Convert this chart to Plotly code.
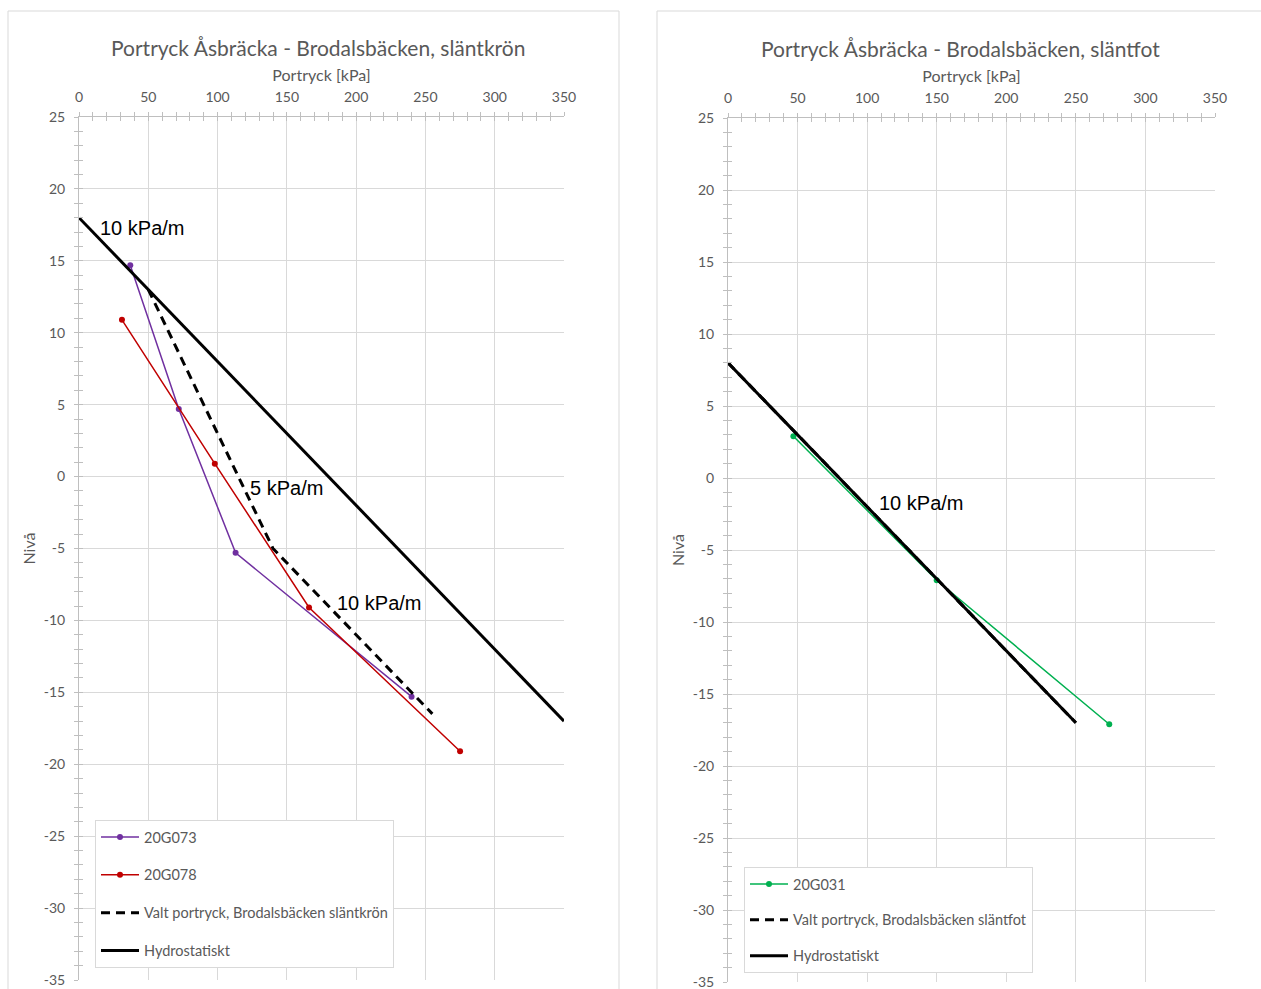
import plotly.graph_objects as go

# --- Släntkrön (left chart) ---
g073_kpa = [37, 72, 113, 240]
g073_niva = [14.7, 4.7, -5.3, -15.3]

g078_kpa = [31, 98, 166, 275]
g078_niva = [10.9, 0.9, -9.1, -19.1]

valt_kron_kpa = [50, 140, 255]
valt_kron_niva = [13, -5, -16.5]

hydro_kron_kpa = [0, 350]
hydro_kron_niva = [18, -17]

# --- Släntfot (right chart) ---
g031_kpa = [47, 150, 274]
g031_niva = [2.9, -7.1, -17.1]

valt_fot_kpa = [0, 250]
valt_fot_niva = [8, -17]

hydro_fot_kpa = [0, 250]
hydro_fot_niva = [8, -17]

# --- Axis settings ---
x_range = [0, 350]
y_range = [-35, 25]
x_tickvals = [0, 50, 100, 150, 200, 250, 300, 350]
y_tickvals = [25, 20, 15, 10, 5, 0, -5, -10, -15, -20, -25, -30, -35]
y_ticktext = [str(v) for v in y_tickvals]  # plain hyphen minus

W, H = 1261, 989
TXT = "#595959"
GRID = "#d9d9d9"
AXL = "#bfbfbf"
FONT = "Lato"

PURPLE = "#7030a0"
RED = "#c00000"
GREEN = "#00b050"

fig = go.Figure()

# left chart traces
fig.add_trace(go.Scatter(x=g073_kpa, y=g073_niva, name="20G073", mode="lines+markers",
                         line=dict(color=PURPLE, width=1.5), marker=dict(size=6, color=PURPLE),
                         xaxis="x", yaxis="y", legend="legend", legendgroup="a"))
fig.add_trace(go.Scatter(x=g078_kpa, y=g078_niva, name="20G078", mode="lines+markers",
                         line=dict(color=RED, width=1.5), marker=dict(size=6, color=RED),
                         xaxis="x", yaxis="y", legend="legend", legendgroup="b"))
fig.add_trace(go.Scatter(x=valt_kron_kpa, y=valt_kron_niva,
                         name="Valt portryck, Brodalsbäcken släntkrön", mode="lines",
                         line=dict(color="black", width=3, dash="9px,6px"),
                         xaxis="x", yaxis="y", legend="legend", legendgroup="c"))
fig.add_trace(go.Scatter(x=hydro_kron_kpa, y=hydro_kron_niva, name="Hydrostatiskt", mode="lines",
                         line=dict(color="black", width=3),
                         xaxis="x", yaxis="y", legend="legend", legendgroup="d"))

# right chart traces
fig.add_trace(go.Scatter(x=g031_kpa, y=g031_niva, name="20G031", mode="lines+markers",
                         line=dict(color=GREEN, width=1.5), marker=dict(size=6, color=GREEN),
                         xaxis="x2", yaxis="y2", legend="legend2", legendgroup="e"))
fig.add_trace(go.Scatter(x=valt_fot_kpa, y=valt_fot_niva,
                         name="Valt portryck, Brodalsbäcken släntfot", mode="lines",
                         line=dict(color="black", width=3, dash="9px,6px"),
                         xaxis="x2", yaxis="y2", legend="legend2", legendgroup="f"))
fig.add_trace(go.Scatter(x=hydro_fot_kpa, y=hydro_fot_niva, name="Hydrostatiskt", mode="lines",
                         line=dict(color="black", width=3),
                         xaxis="x2", yaxis="y2", legend="legend2", legendgroup="g"))

# empty traces carrying the inward half of the crossing tick marks
for xa, ya in (("x3", "y3"), ("x4", "y4")):
    fig.add_trace(go.Scatter(x=[None], y=[None], mode="lines", showlegend=False,
                             hoverinfo="skip", xaxis=xa, yaxis=ya))

left_dom = [79 / W, 564 / W]
right_dom = [728 / W, 1215 / W]
left_ydom = [1 - 980 / H, 1 - 117 / H]
right_ydom = [1 - 982 / H, 1 - 118 / H]


def xax(domain, anchor, **kw):
    d = dict(domain=domain, anchor=anchor, range=x_range, side="top", automargin=False,
             tickvals=x_tickvals, showgrid=True, gridcolor=GRID, gridwidth=1,
             showline=True, linecolor=AXL, linewidth=1, zeroline=False,
             ticks="outside", ticklen=4, tickcolor=AXL, ticklabelstandoff=4,
             ticklabeloverflow="allow",
             minor=dict(dtick=10, ticks="outside", ticklen=4, tickcolor=AXL, showgrid=False),
             tickfont=dict(family=FONT, size=14, color=TXT),
             title=dict(text="Portryck [kPa]", font=dict(family=FONT, size=16, color=TXT), standoff=2))
    d.update(kw)
    return d


def yax(domain, anchor, **kw):
    d = dict(domain=domain, anchor=anchor, range=y_range, automargin=False,
             tickvals=y_tickvals, ticktext=y_ticktext, showgrid=True, gridcolor=GRID, gridwidth=1,
             showline=True, linecolor=AXL, linewidth=1, zeroline=False,
             ticks="outside", ticklen=4, tickcolor=AXL, ticklabeloverflow="allow",
             minor=dict(dtick=1, ticks="outside", ticklen=4, tickcolor=AXL, showgrid=False),
             tickfont=dict(family=FONT, size=14, color=TXT), ticklabelstandoff=6,
             title=dict(text="Nivå", font=dict(family=FONT, size=16, color=TXT), standoff=4))
    d.update(kw)
    return d


def overlay_x(domain, anchor, over):
    return dict(domain=domain, anchor=anchor, overlaying=over, matches=over, range=x_range,
                side="top", tickvals=x_tickvals, showgrid=False, showline=False, zeroline=False,
                ticks="inside", ticklen=4, tickcolor=AXL, showticklabels=False, automargin=False,
                minor=dict(dtick=10, ticks="inside", ticklen=4, tickcolor=AXL, showgrid=False))


def overlay_y(domain, anchor, over):
    return dict(domain=domain, anchor=anchor, overlaying=over, matches=over, range=y_range,
                tickvals=y_tickvals, showgrid=False, showline=False, zeroline=False,
                ticks="inside", ticklen=4, tickcolor=AXL, showticklabels=False, automargin=False,
                minor=dict(dtick=1, ticks="inside", ticklen=4, tickcolor=AXL, showgrid=False))


legend_common = dict(
    font=dict(family=FONT, size=14.5, color=TXT),
    bgcolor="white", bordercolor=GRID, borderwidth=1, itemwidth=38,
    xanchor="left", yanchor="top", traceorder="grouped",
)

fig.update_layout(
    width=W, height=H,
    margin=dict(l=0, r=0, t=0, b=0, autoexpand=False),
    paper_bgcolor="white", plot_bgcolor="white",
    font=dict(family=FONT, color=TXT),
    xaxis=xax(left_dom, "y"),
    yaxis=yax(left_ydom, "x"),
    xaxis2=xax(right_dom, "y2"),
    yaxis2=yax(right_ydom, "x2"),
    xaxis3=overlay_x(left_dom, "y3", "x"),
    yaxis3=overlay_y(left_ydom, "x3", "y"),
    xaxis4=overlay_x(right_dom, "y4", "x2"),
    yaxis4=overlay_y(right_ydom, "x4", "y2"),
    legend=dict(x=95 / W, y=1 - 820 / H, tracegroupgap=16, **legend_common),
    legend2=dict(x=744 / W, y=1 - 867 / H, tracegroupgap=14, **legend_common),
    showlegend=True,
    shapes=[
        dict(type="rect", xref="paper", yref="paper", x0=8 / W, x1=619 / W,
             y0=-0.02, y1=1 - 11 / H, line=dict(color=GRID, width=1), layer="below"),
        dict(type="rect", xref="paper", yref="paper", x0=657 / W, x1=1.02,
             y0=-0.02, y1=1 - 11 / H, line=dict(color=GRID, width=1), layer="below"),
    ],
    annotations=[
        dict(text="Portryck Åsbräcka - Brodalsbäcken, släntkrön", xref="paper", yref="paper",
             x=318 / W, y=1 - 47 / H, xanchor="center", yanchor="middle", showarrow=False,
             font=dict(family=FONT, size=21, color=TXT)),
        dict(text="Portryck Åsbräcka - Brodalsbäcken, släntfot", xref="paper", yref="paper",
             x=960 / W, y=1 - 48 / H, xanchor="center", yanchor="middle", showarrow=False,
             font=dict(family=FONT, size=21, color=TXT)),
        dict(text="10 kPa/m", xref="x", yref="y", x=13.7, y=17.3, xanchor="left",
             yanchor="middle", showarrow=False,
             font=dict(family="Liberation Sans", size=20, color="black")),
        dict(text="5 kPa/m", xref="x", yref="y", x=122, y=-0.8, xanchor="left",
             yanchor="middle", showarrow=False,
             font=dict(family="Liberation Sans", size=20, color="black")),
        dict(text="10 kPa/m", xref="x", yref="y", x=184.7, y=-8.8, xanchor="left",
             yanchor="middle", showarrow=False,
             font=dict(family="Liberation Sans", size=20, color="black")),
        dict(text="10 kPa/m", xref="x2", yref="y2", x=107, y=-1.75, xanchor="left",
             yanchor="middle", showarrow=False,
             font=dict(family="Liberation Sans", size=20, color="black")),
    ],
)

fig.write_html("out.html")
